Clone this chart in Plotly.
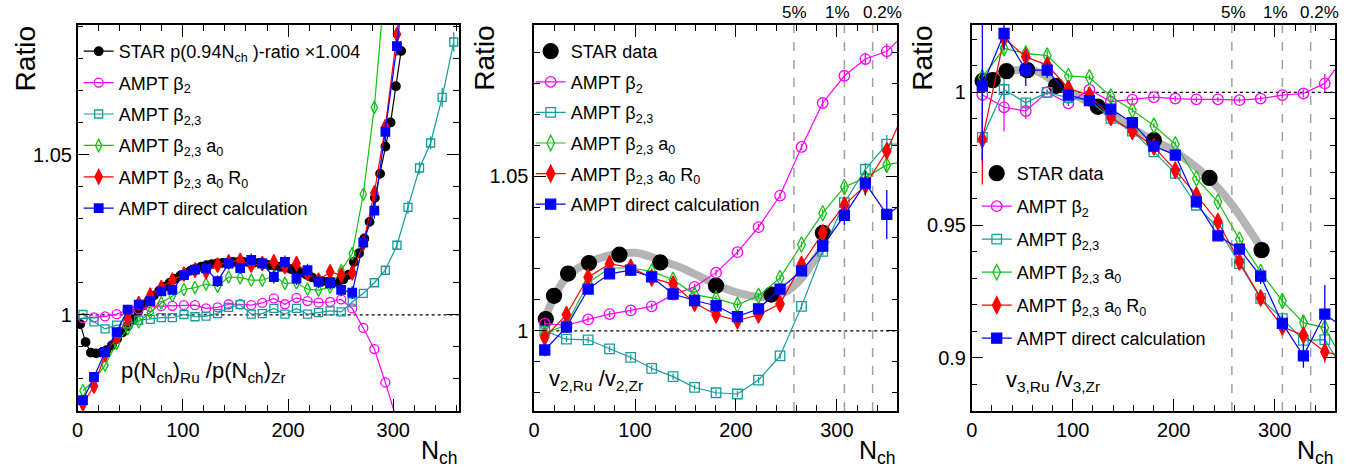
import plotly.graph_objects as go

# ---------------- data ----------------
# Panel 1 : p(Nch)_Ru / p(Nch)_Zr
p1_star_n = [2.5, 7.5, 12.5, 17.5, 22.5, 27.5, 32.5, 37.5, 42.5, 47.5, 52.5, 57.5, 62.5, 67.5, 72.5,
             77.5, 82.5, 87.5, 92.5, 97.5, 102.5, 107.5, 112.5, 117.5, 122.5, 127.5, 132.5, 137.5,
             142.5, 147.5, 152.5, 157.5, 162.5, 167.5, 172.5, 177.5, 182.5, 187.5, 192.5, 197.5,
             202.5, 207.5, 212.5, 217.5, 222.5, 227.5, 232.5, 237.5, 242.5, 247.5, 252.5, 257.5,
             262.5, 267.5, 272.5, 277.5, 282.5, 287.5, 292.5, 297.5, 302.5, 307.5]
p1_star = [0.9971, 0.9915, 0.9882, 0.9880, 0.9882, 0.9890, 0.9905, 0.9925, 0.9945, 0.9965, 0.9985,
           1.0010, 1.0030, 1.0045, 1.0060, 1.0075, 1.0088, 1.0100, 1.0112, 1.0122, 1.0130, 1.0138,
           1.0145, 1.0150, 1.0155, 1.0158, 1.0160, 1.0162, 1.0163, 1.0165, 1.0165, 1.0165, 1.0164,
           1.0163, 1.0162, 1.0160, 1.0155, 1.0153, 1.0150, 1.0147, 1.0143, 1.0138, 1.0132, 1.0125,
           1.0117, 1.0110, 1.0105, 1.0103, 1.0102, 1.0103, 1.0110, 1.0125, 1.0165, 1.0192, 1.0238,
           1.0290, 1.0365, 1.0440, 1.0525, 1.0600, 1.0713, 1.0823]

p1_n = [5, 15.5, 26, 37, 47.5, 58, 69, 79.5, 90, 101, 111.5, 122, 133, 143.5, 154.5, 165, 175.5,
        186.5, 197, 208, 218.5, 229, 240, 250.5, 261, 271.5, 282, 292.5, 303.5, 314, 325, 335.5,
        346.5, 357.5]
p1_b2 = [0.9990, 0.9992, 0.9995, 1.0002, 1.0015, 1.0017, 1.0025, 1.0027, 1.0028, 1.0030, 1.0030,
         1.0020, 1.0023, 1.0033, 1.0033, 1.0030, 1.0037, 1.0051, 1.0033, 1.0053, 1.0043, 1.0038,
         1.0040, 1.0048, 1.0020, 0.9959, 0.9893, 0.9789, 0.9670]
p1_b23 = [1.0001, 0.9978, 0.9956, 0.9968, 0.9972, 0.9983, 0.9986, 0.9991, 0.9991, 1.0001, 0.9994,
          0.9996, 1.0004, 1.0023, 1.0032, 1.0002, 1.0004, 1.0020, 1.0002, 1.0020, 1.0002, 1.0007,
          1.0012, 1.0009, 1.0040, 1.0067, 1.0100, 1.0139, 1.0217, 1.0335, 1.0458, 1.0536, 1.0678,
          1.0851]
p1_b23_err = [0, 0, 0, 0, 0, 0, 0, 0, 0, 0, 0, 0, 0, 0, 0, 0, 0, 0, 0, 0, 0, 0, 0, 0, 0, 0, 0,
              0.001, 0.0015, 0.002, 0.002, 0.002, 0.003, 0.003]
p1_b23a0 = [0.9763, 0.9795, 0.9843, 0.9911, 0.9957, 0.9978, 1.0007, 1.0037, 1.0059, 1.0079, 1.0085,
            1.0096, 1.0089, 1.0118, 1.0116, 1.0108, 1.0108, 1.0121, 1.0098, 1.0100, 1.0080, 1.0077,
            1.0087, 1.0137, 1.0191, 1.0376, 1.0647, 1.1050]
p1_b23a0r0 = [0.9722, 0.9778, 0.9876, 0.9931, 0.9989, 1.0035, 1.0061, 1.0085, 1.0108, 1.0127,
              1.0139, 1.0134, 1.0155, 1.0165, 1.0170, 1.0155, 1.0160, 1.0165, 1.0150, 1.0160,
              1.0129, 1.0108, 1.0134, 1.0124, 1.0131, 1.0222, 1.0380, 1.0587, 1.0875, 1.1200]
p1_direct = [0.9734, 0.9806, 0.9884, 0.9946, 1.0016, 1.0032, 1.0043, 1.0073, 1.0078, 1.0124, 1.0141,
             1.0145, 1.0105, 1.0160, 1.0146, 1.0171, 1.0160, 1.0118, 1.0165, 1.0113, 1.0139, 1.0103,
             1.0098, 1.0078, 1.0069, 1.0225, 1.0325, 1.0571, 1.0838, 1.1150]
p1_direct_err = [0.001, 0.001, 0.001, 0.001, 0.001, 0.0012, 0.0012, 0.0012, 0.0015, 0.0015, 0.0015,
                 0.0015, 0.0018, 0.0018, 0.0018, 0.002, 0.002, 0.002, 0.002, 0.002, 0.002, 0.002,
                 0.002, 0.002, 0.002, 0.002, 0.0025, 0.003, 0.003, 0.003]

# Panels 2 and 3 : AMPT bin centres
p23_n = [10.5, 32, 53.5, 74.7, 95.7, 116.5, 137.7, 159, 180.3, 201.5, 222.4, 243.7, 265, 286,
         307.5, 328.3, 349.5, 371]

# Panel 2 : v2 ratio
p2_star_n = [11.5, 19.7, 33.6, 54.3, 84.5, 125, 180.3, 235.2, 286.2]
p2_star = [1.0038, 1.0113, 1.0185, 1.0219, 1.0246, 1.0221, 1.0146, 1.0117, 1.0316]
p2_band_n = [9, 12, 20, 30, 40, 55, 70, 85, 100, 115, 130, 145, 160, 175, 190, 205, 220, 235,
             250, 265, 280, 290]
p2_band = [1.0015, 1.0050, 1.0110, 1.0165, 1.0195, 1.0222, 1.0240, 1.0250, 1.0252, 1.0240, 1.0222,
           1.0205, 1.0182, 1.0158, 1.0136, 1.0120, 1.0110, 1.0110, 1.0127, 1.0170, 1.0240, 1.0295]
p2_b2 = [1.0023, 1.0018, 1.0037, 1.0054, 1.0066, 1.0079, 1.0117, 1.0142, 1.0188, 1.0254, 1.0335,
         1.0437, 1.0594, 1.0736, 1.0824, 1.0878, 1.0903, 1.0970]
p2_b2_err = [0.001, 0.001, 0.001, 0.001, 0.001, 0.001, 0.001, 0.001, 0.001, 0.001, 0.001, 0.001,
             0.001, 0.0012, 0.0015, 0.002, 0.0025, 0]
p2_b23 = [1.0000, 0.9973, 0.9971, 0.9942, 0.9914, 0.9879, 0.9852, 0.9817, 0.9800, 0.9796, 0.9841,
          0.9919, 1.0079, 1.0257, 1.0414, 1.0522, 1.0603, 1.0603]
p2_b23_err = [0.001, 0.001, 0.001, 0.001, 0.001, 0.001, 0.001, 0.001, 0.001, 0.001, 0.001, 0.001,
              0.001, 0.0012, 0.0015, 0.002, 0.003, 0]
p2_b23a0 = [0.9992, 1.0019, 1.0155, 1.0203, 1.0203, 1.0192, 1.0165, 1.0117, 1.0104, 1.0084, 1.0113,
            1.0171, 1.0279, 1.0380, 1.0465, 1.0495, 1.0536, 1.0550]
p2_b23a0_err = [0.001, 0.001, 0.001, 0.001, 0.001, 0.001, 0.001, 0.001, 0.001, 0.001, 0.001, 0.001,
                0.001, 0.0012, 0.0015, 0.002, 0.002, 0]
p2_b23a0r0 = [0.9979, 1.0052, 1.0173, 1.0216, 1.0205, 1.0171, 1.0151, 1.0090, 1.0052, 1.0033,
              1.0052, 1.0087, 1.0214, 1.0316, 1.0406, 1.0470, 1.0581, 1.0740]
p2_b23a0r0_err = [0.001, 0.001, 0.001, 0.001, 0.001, 0.001, 0.001, 0.001, 0.001, 0.001, 0.001,
                  0.001, 0.001, 0.0012, 0.0015, 0.003, 0.002, 0]
p2_direct = [0.9938, 1.0012, 1.0135, 1.0184, 1.0196, 1.0174, 1.0119, 1.0098, 1.0081, 1.0046, 1.0071,
             1.0135, 1.0194, 1.0274, 1.0373, 1.0477, 1.0376, 1.0422]
p2_direct_err = [0.002, 0.001, 0.001, 0.001, 0.001, 0.001, 0.001, 0.001, 0.001, 0.001, 0.001, 0.001,
                 0.0012, 0.0015, 0.003, 0.004, 0.0079, 0]

# Panel 3 : v3 ratio
p3_star_n = [10.8, 20.7, 34.4, 55, 83.6, 124.9, 180.3, 235.4, 286.9]
p3_star = [1.0043, 1.0046, 1.0080, 1.0084, 1.0025, 0.9946, 0.9820, 0.9678, 0.9406]
p3_band_n = [10, 20, 30, 40, 55, 65, 75, 85, 100, 115, 130, 145, 160, 180, 200, 220, 235, 258,
             276, 287.5]
p3_band = [1.0042, 1.0055, 1.0072, 1.0082, 1.0085, 1.0078, 1.0058, 1.0030, 0.9995, 0.9965, 0.9935,
           0.9898, 0.9862, 0.9820, 0.9780, 0.9725, 0.9676, 0.9575, 0.9475, 0.9408]
p3_b2 = [0.9991, 0.9944, 0.9930, 1.0001, 0.9959, 1.0010, 0.9965, 0.9973, 0.9982, 0.9977, 0.9974,
         0.9974, 0.9971, 0.9977, 0.9990, 0.9996, 1.0034, 1.0145]
p3_b2_err = [0.002, 0.009, 0.003, 0.001, 0.001, 0.001, 0.001, 0.001, 0.001, 0.001, 0.001, 0.001,
             0.001, 0.001, 0.001, 0.0015, 0.0035, 0]
p3_b23 = [0.9831, 1.0011, 0.9961, 1.0000, 0.9980, 0.9971, 0.9902, 0.9854, 0.9776, 0.9695, 0.9575,
          0.9490, 0.9355, 0.9224, 0.9148, 0.9066, 0.9069, 0.8936]
p3_b23_err = [0.010, 0.004, 0.002, 0.001, 0.001, 0.001, 0.001, 0.001, 0.001, 0.001, 0.001, 0.001,
              0.001, 0.0015, 0.002, 0.003, 0.004, 0]
p3_b23a0 = [1.0057, 1.0166, 1.0147, 1.0139, 1.0062, 1.0057, 0.9985, 0.9933, 0.9875, 0.9805, 0.9676,
            0.9588, 0.9446, 0.9324, 0.9214, 0.9133, 0.9114, 0.8965]
p3_b23a0_err = [0.002, 0.003, 0.003, 0.002, 0.001, 0.001, 0.001, 0.001, 0.001, 0.001, 0.001, 0.001,
                0.001, 0.0015, 0.002, 0.003, 0.004, 0]
p3_b23a0r0 = [0.9823, 1.0204, 1.0134, 1.0103, 1.0015, 0.9990, 0.9906, 0.9854, 0.9795, 0.9707,
              0.9613, 0.9513, 0.9362, 0.9226, 0.9117, 0.9085, 0.9023, 0.9005]
p3_b23a0r0_err = [0.017, 0.004, 0.003, 0.002, 0.001, 0.001, 0.001, 0.001, 0.001, 0.001, 0.001,
                  0.001, 0.001, 0.0015, 0.002, 0.003, 0.004, 0]
p3_direct = [1.0024, 1.0222, 1.0084, 1.0084, 0.9990, 0.9969, 0.9937, 0.9886, 0.9798, 0.9764, 0.9588,
             0.9460, 0.9410, 0.9308, 0.9130, 0.9008, 0.9165, 0.9105]
p3_direct_err = [0.028, 0.006, 0.006, 0.003, 0.002, 0.002, 0.002, 0.002, 0.002, 0.002, 0.002, 0.002,
                 0.002, 0.003, 0.003, 0.0045, 0.011, 0]

centrality_cuts = [257.5, 307.5, 335.5]
centrality_labels = ["5%", "1%", "0.2%"]

# ---------------- style ----------------
W, H = 1362, 470
FONT = "Liberation Sans, Arial, Helvetica, sans-serif"
C_MAG = "#ff00ff"
C_TEAL = "#149c9c"
C_GREEN = "#13c013"
C_RED = "#ff0000"
C_BLUE = "#0000ff"
C_BAND = "#b4b4b4"


def px(x):
    return x / W


def py(y):
    return 1 - y / H


fig = go.Figure()


def add(xs, ys, name, color, symbol, size, panel, err=None, line=True, mode=None):
    xa = "x" if panel == 1 else "x%d" % panel
    ya = "y" if panel == 1 else "y%d" % panel
    leg = "legend" if panel == 1 else "legend%d" % panel
    kw = {}
    if err is not None:
        kw["error_y"] = dict(type="data", array=err[:len(ys)], visible=True, color=color,
                             thickness=1.3, width=0)
    fig.add_trace(go.Scatter(
        x=xs[:len(ys)], y=ys, name=name, xaxis=xa, yaxis=ya, legend=leg,
        legendgroup="%s_%d" % (name, panel),
        mode=mode or ("lines+markers" if line else "markers"),
        line=dict(color=color, width=1.2),
        marker=dict(color=color, symbol=symbol, size=size,
                    line=dict(color=color, width=1.3)),
        cliponaxis=True, **kw))


def band(xs, ys, panel):
    fig.add_trace(go.Scatter(
        x=xs, y=ys, xaxis="x%d" % panel, yaxis="y%d" % panel, mode="lines",
        line=dict(color=C_BAND, width=8, shape="spline"), showlegend=False, hoverinfo="skip"))


names = ["AMPT β<sub>2</sub>", "AMPT β<sub>2,3</sub>", "AMPT β<sub>2,3</sub> a<sub>0</sub>",
         "AMPT β<sub>2,3</sub> a<sub>0</sub> R<sub>0</sub>", "AMPT direct calculation"]

# panel 1
add(p1_star_n, p1_star, "STAR p(0.94N<sub>ch</sub> )-ratio ×1.004", "black", "circle", 8.5, 1)
add(p1_n, p1_b2, names[0], C_MAG, "circle-open", 9, 1)
add(p1_n, p1_b23, names[1], C_TEAL, "square-open", 8, 1, err=p1_b23_err)
add(p1_n, p1_b23a0, names[2], C_GREEN, "diamond-tall-open", 9, 1)
add(p1_n, p1_b23a0r0, names[3], C_RED, "diamond-tall", 10.5, 1)
add(p1_n, p1_direct, names[4], C_BLUE, "square", 8.5, 1, err=p1_direct_err)

# panel 2
band(p2_band_n, p2_band, 2)
add(p2_star_n, p2_star, "STAR data", "black", "circle", 15, 2, mode="markers")
add(p23_n, p2_b2, names[0], C_MAG, "circle-open", 10.5, 2, err=p2_b2_err)
add(p23_n, p2_b23, names[1], C_TEAL, "square-open", 9.5, 2, err=p2_b23_err)
add(p23_n, p2_b23a0, names[2], C_GREEN, "diamond-tall-open", 11, 2, err=p2_b23a0_err)
add(p23_n, p2_b23a0r0, names[3], C_RED, "diamond-tall", 12, 2, err=p2_b23a0r0_err)
add(p23_n, p2_direct, names[4], C_BLUE, "square", 10, 2, err=p2_direct_err)

# panel 3
band(p3_band_n, p3_band, 3)
add(p3_star_n, p3_star, "STAR data", "black", "circle", 15, 3, mode="markers")
add(p23_n, p3_b2, names[0], C_MAG, "circle-open", 10.5, 3, err=p3_b2_err)
add(p23_n, p3_b23, names[1], C_TEAL, "square-open", 9.5, 3, err=p3_b23_err)
add(p23_n, p3_b23a0, names[2], C_GREEN, "diamond-tall-open", 11, 3, err=p3_b23a0_err)
add(p23_n, p3_b23a0r0, names[3], C_RED, "diamond-tall", 12, 3, err=p3_b23a0r0_err)
add(p23_n, p3_direct, names[4], C_BLUE, "square", 10, 3, err=p3_direct_err)


def xaxis(dom, rng, anchor):
    return dict(domain=dom, range=rng, anchor=anchor, showline=True, linecolor="black",
                linewidth=1.5, mirror="allticks", ticks="inside", ticklen=12, tickwidth=1.3,
                tickcolor="black", tick0=0, dtick=100, showgrid=False, zeroline=False,
                tickfont=dict(size=20, color="black", family=FONT),
                minor=dict(ticks="inside", ticklen=6, dtick=20, tickwidth=1.3, tickcolor="black",
                           showgrid=False))


def yaxis(dom, rng, anchor):
    return dict(domain=dom, range=rng, anchor=anchor, showline=True, linecolor="black",
                linewidth=1.5, mirror="allticks", ticks="inside", ticklen=12, tickwidth=1.3,
                tickcolor="black", tick0=0, dtick=0.05, showgrid=False, zeroline=False,
                tickfont=dict(size=20, color="black", family=FONT),
                minor=dict(ticks="inside", ticklen=6, dtick=0.01, tickwidth=1.3, tickcolor="black",
                           showgrid=False))


dom1x = [px(72), px(455)]
dom2x = [px(530.5), px(895.3)]
dom3x = [px(970), px(1335.3)]
domy = [py(411), py(25)]

def legend(x, y, gap):
    return dict(x=x, y=y, xanchor="left", yanchor="top", bgcolor="rgba(0,0,0,0)",
                borderwidth=0, font=dict(size=18, color="black", family=FONT),
                tracegroupgap=gap, itemsizing="trace")

layout = dict(
    width=W, height=H, margin=dict(l=0, r=0, t=0, b=0),
    paper_bgcolor="white", plot_bgcolor="white",
    font=dict(family=FONT, color="black"),
    hovermode=False,
    xaxis=xaxis(dom1x, [0, 362.5], "y"),
    yaxis=yaxis(domy, [0.9700, 1.0904], "x"),
    xaxis2=xaxis(dom2x, [0, 360], "y2"),
    yaxis2=yaxis(domy, [0.9741, 1.0988], "x2"),
    xaxis3=xaxis(dom3x, [0, 360], "y3"),
    yaxis3=yaxis(domy, [0.8800, 1.0254], "x3"),
    legend=legend(px(73), py(33), 5),
    legend2=legend(px(527), py(33), 4.2),
    legend3=legend(px(975), py(155), 6.6),
    showlegend=True,
)
fig.update_layout(**layout)

shapes = []
# dotted unity lines
for xr, yr, x0, x1 in [("x", "y", 0, 362.5), ("x2", "y2", 10, 360), ("x3", "y3", 10, 360)]:
    shapes.append(dict(type="line", xref=xr, yref=yr, x0=x0, x1=x1, y0=1, y1=1,
                       line=dict(color="black", width=1.2, dash="dot"), layer="below"))
# centrality dashed lines
for xr, yr, ylo, yhi in [("x2", "y2", 0.9741, 1.0988), ("x3", "y3", 0.8800, 1.0254)]:
    for c in centrality_cuts:
        shapes.append(dict(type="line", xref=xr, yref=yr, x0=c, x1=c, y0=ylo, y1=yhi,
                           line=dict(color="#a0a0a0", width=1.5, dash="dash"), layer="below"))
fig.update_layout(shapes=shapes)

ann = []
# "Ratio" titles
for cx in [20, 480.3, 920.3]:
    ann.append(dict(text="Ratio", x=px(cx), y=py(24), xref="paper", yref="paper",
                    xanchor="center", yanchor="top", textangle=-90, showarrow=False,
                    font=dict(size=28, color="black", family=FONT)))
# N_ch titles
for rx in [456, 896, 1336]:
    ann.append(dict(text="N<sub>ch</sub>", x=px(rx), y=py(434), xref="paper", yref="paper",
                    xanchor="right", yanchor="top", showarrow=False,
                    font=dict(size=25, color="black", family=FONT)))
# ratio labels
ann.append(dict(text="p(N<sub>ch</sub>)<sub>Ru</sub> /p(N<sub>ch</sub>)<sub>Zr</sub>",
                x=px(114), y=py(372), xref="paper", yref="paper", xanchor="left",
                yanchor="middle", showarrow=False, font=dict(size=22, color="black", family=FONT)))
ann.append(dict(text="v<sub>2,Ru</sub> /v<sub>2,Zr</sub>",
                x=px(543), y=py(380), xref="paper", yref="paper", xanchor="left",
                yanchor="middle", showarrow=False, font=dict(size=22, color="black", family=FONT)))
ann.append(dict(text="v<sub>3,Ru</sub> /v<sub>3,Zr</sub>",
                x=px(1002), y=py(381), xref="paper", yref="paper", xanchor="left",
                yanchor="middle", showarrow=False, font=dict(size=22, color="black", family=FONT)))
# centrality labels
for cxs in [[792, 835, 880], [1232.5, 1275, 1319]]:
    for cx, lab in zip(cxs, centrality_labels):
        ann.append(dict(text=lab, x=px(cx), y=py(13), xref="paper", yref="paper",
                        xanchor="center", yanchor="middle", showarrow=False,
                        font=dict(size=17, color="black", family=FONT)))
fig.update_layout(annotations=ann)

fig.write_html("out.html", config={"displayModeBar": False},
               post_script="document.body.style.margin='0px';document.body.style.overflow='hidden';")
